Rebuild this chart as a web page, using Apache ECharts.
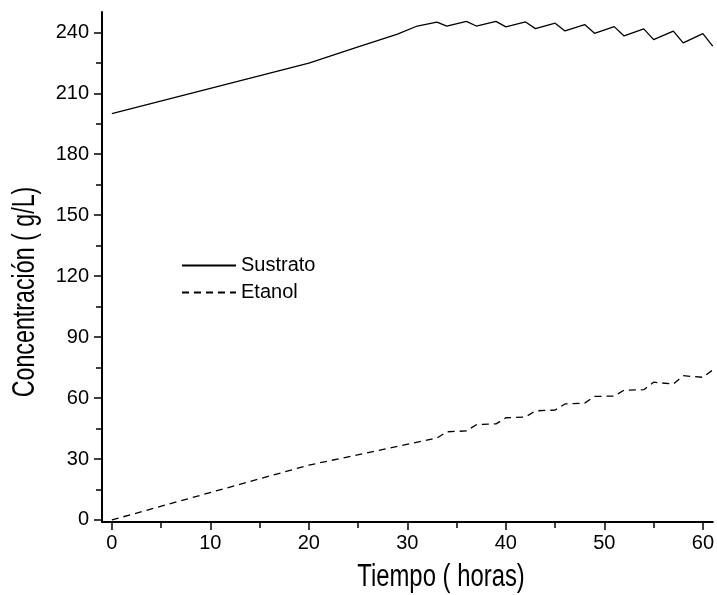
<!DOCTYPE html>
<html>
<head>
<meta charset="utf-8">
<script src="https://cdn.jsdelivr.net/npm/echarts@6/dist/echarts.min.js"></script>
<style>
html,body{margin:0;padding:0;background:#fff;}
#chart{width:717px;height:595px;}
</style>
</head>
<body>
<div id="chart"></div>
<script>
// ---- data ----
const sustratoX = [0, 20, 25, 29, 31, 33, 34, 36, 37, 39, 40, 42, 43, 45, 46, 48, 49, 51, 52, 54, 55, 57, 58, 60, 61];
const sustratoY = [200, 224.8, 232.8, 239.1, 243.1, 245.0, 243.1, 245.4, 243.1, 245.4, 242.7, 245.1, 241.8, 244.5, 240.7, 243.8, 239.5, 242.8, 238.2, 241.7, 236.4, 240.6, 234.8, 239.4, 233.2];
const etanolX = [0, 20, 33, 34, 36, 37, 39, 40, 42, 43, 45, 46, 48, 49, 51, 52, 54, 55, 57, 58, 60, 61];
const etanolY = [0, 27.0, 40.3, 43.4, 43.8, 46.9, 47.3, 50.3, 50.7, 53.7, 54.1, 57.1, 57.5, 60.8, 61.0, 63.9, 64.1, 67.8, 66.9, 71.0, 70.2, 73.8];
const xMajorTicks = [0, 10, 20, 30, 40, 50, 60];
const xMinorTicks = [5, 15, 25, 35, 45, 55];
const yMajorTicks = [0, 30, 60, 90, 120, 150, 180, 210, 240];
const yMinorTicks = [15, 45, 75, 105, 135, 165, 195, 225];
const seriesNames = ['Sustrato', 'Etanol'];
const xTitle = 'Tiempo ( horas)';
const yTitle = 'Concentración ( g/L)';

const FONT = '"Liberation Sans", Arial, sans-serif';
const pairs = (xs, ys) => xs.map((x, i) => [x, ys[i]]);

const chart = echarts.init(document.getElementById('chart'), null, {renderer: 'canvas'});
const axisLineStyle = {color: '#000', width: 2};
chart.setOption({
  animation: false,
  backgroundColor: '#fff',
  grid: {left: 102, right: 0, top: 12, bottom: 73, containLabel: false},
  xAxis: [{
    type: 'value', min: -1, max: 61,
    axisLine: {show: true, onZero: false, lineStyle: axisLineStyle},
    axisTick: {show: true, inside: false, length: 8, customValues: xMajorTicks, lineStyle: {color: '#000', width: 1.5}},
    axisLabel: {show: true, customValues: xMajorTicks, margin: 11, fontSize: 20, color: '#000', fontFamily: FONT},
    splitLine: {show: false}
  }, {
    type: 'value', min: -1, max: 61, position: 'bottom',
    axisLine: {show: false, onZero: false},
    axisTick: {show: true, inside: false, length: 6, customValues: xMinorTicks, lineStyle: {color: '#000', width: 1.5}},
    axisLabel: {show: false},
    splitLine: {show: false}
  }],
  yAxis: [{
    type: 'value', min: -1, max: 250,
    axisLine: {show: true, onZero: false, lineStyle: axisLineStyle},
    axisTick: {show: true, inside: false, length: 8, customValues: yMajorTicks, lineStyle: {color: '#000', width: 1.5}},
    axisLabel: {show: true, customValues: yMajorTicks, margin: 13, fontSize: 20, color: '#000', fontFamily: FONT},
    splitLine: {show: false}
  }, {
    type: 'value', min: -1, max: 250, position: 'left',
    axisLine: {show: false, onZero: false},
    axisTick: {show: true, inside: false, length: 6, customValues: yMinorTicks, lineStyle: {color: '#000', width: 1.5}},
    axisLabel: {show: false},
    splitLine: {show: false}
  }],
  legend: {
    data: seriesNames,
    orient: 'vertical', left: 181, top: 253, padding: 0,
    itemWidth: 54, itemHeight: 14, itemGap: 2, itemTextGap: 5,
    itemStyle: {opacity: 0},
    textStyle: {fontSize: 20, color: '#000', fontFamily: FONT, lineHeight: 25}
  },
  series: [{
    name: seriesNames[0], type: 'line', xAxisIndex: 0, yAxisIndex: 0,
    data: pairs(sustratoX, sustratoY), showSymbol: false, symbol: 'none',
    lineStyle: {color: '#000', width: 1.3, type: 'solid'}, itemStyle: {color: '#000'}
  }, {
    name: seriesNames[1], type: 'line', xAxisIndex: 0, yAxisIndex: 0,
    data: pairs(etanolX, etanolY), showSymbol: false, symbol: 'none',
    lineStyle: {color: '#000', width: 1.3, type: [7, 5]}, itemStyle: {color: '#000'}
  }],
  graphic: [{
    type: 'text', x: 441, y: 577, scaleX: 0.77,
    style: {text: xTitle, fontSize: 31, fontFamily: FONT, fill: '#000', align: 'center', verticalAlign: 'middle'}
  }, {
    type: 'text', x: 25, y: 292, rotation: Math.PI / 2, scaleX: 0.75,
    style: {text: yTitle, fontSize: 31, fontFamily: FONT, fill: '#000', align: 'center', verticalAlign: 'middle'}
  }]
});
</script>
</body>
</html>
